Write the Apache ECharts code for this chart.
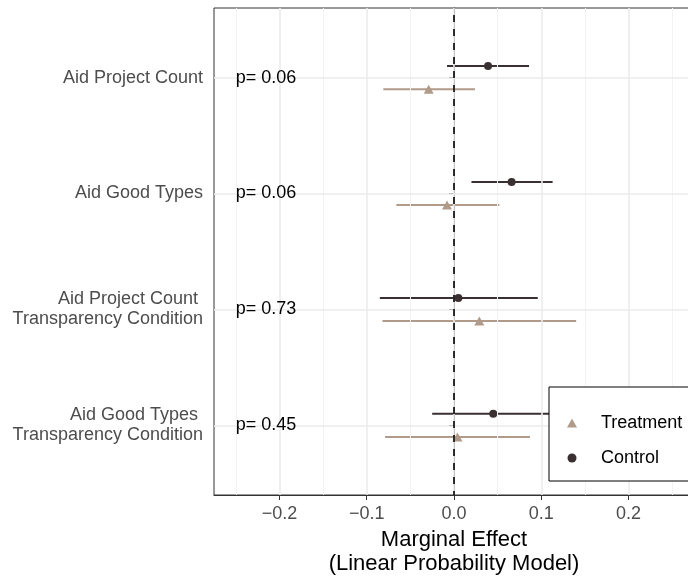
<!DOCTYPE html>
<html>
<head>
<meta charset="utf-8">
<script src="https://cdn.jsdelivr.net/npm/echarts@6/dist/echarts.min.js"></script>
<style>
html,body{margin:0;padding:0;background:#fff;}
#chart{width:688px;height:576px;}
</style>
</head>
<body>
<div id="chart"></div>
<script>
// ---- data ----
const categories = ['Aid Project Count', 'Aid Good Types', 'Aid Project Count \nTransparency Condition', 'Aid Good Types \nTransparency Condition'];
const pLabels = ['p= 0.06', 'p= 0.06', 'p= 0.73', 'p= 0.45'];
const controlEst = [0.039, 0.066, 0.005, 0.045];
const controlLo  = [-0.008, 0.020, -0.085, -0.025];
const controlHi  = [0.086, 0.113, 0.096, 0.115];
const treatEst   = [-0.029, -0.008, 0.029, 0.004];
const treatLo    = [-0.081, -0.066, -0.082, -0.079];
const treatHi    = [0.024, 0.052, 0.140, 0.087];
const xTicks = [-0.2, -0.1, 0, 0.1, 0.2];
const xMinor = [-0.25, -0.15, -0.05, 0.05, 0.15, 0.25];
const yTicks = [1, 2, 3, 4];
const pLabelX = -0.25;
const dodge = 0.1;

const FONT = 'Liberation Sans, Arial, Helvetica, sans-serif';
const controlColor = '#3a3032';
const treatColor = '#b09b8b';

const controlPts = controlEst.map((v, i) => [v, i + 1 - dodge]);
const treatPts = treatEst.map((v, i) => [v, i + 1 + dodge]);
const controlBars = controlLo.map((v, i) => [v, controlHi[i], i + 1 - dodge]);
const treatBars = treatLo.map((v, i) => [v, treatHi[i], i + 1 + dodge]);
const pData = pLabels.map((t, i) => [pLabelX, i + 1, t]);

function barRenderer(color) {
  return function (params, api) {
    const a = api.coord([api.value(0), api.value(2)]);
    const b = api.coord([api.value(1), api.value(2)]);
    return { type: 'line', shape: { x1: a[0], y1: a[1], x2: b[0], y2: b[1] },
             style: { stroke: color, lineWidth: 2 } };
  };
}
const fmt = v => (v < 0 ? '\u2212' : '') + Math.abs(v).toFixed(1);

const chart = echarts.init(document.getElementById('chart'), null, { renderer: 'canvas' });
chart.setOption({
  animation: false,
  backgroundColor: '#fff',
  textStyle: { fontFamily: FONT },
  grid: { left: 214, top: 8, width: 480, bottom: 81, containLabel: false, outerBoundsMode: 'none',
          show: true, borderColor: '#333', borderWidth: 1, backgroundColor: 'transparent' },
  xAxis: {
    type: 'value', min: -0.275, max: 0.275,
    axisLine: { show: true, lineStyle: { color: '#333', width: 1 } },
    splitLine: { show: false },
    axisTick: { show: true, customValues: xTicks, length: 5, lineStyle: { color: '#333', width: 1 } },
    axisLabel: { customValues: xTicks, formatter: fmt, fontSize: 18, color: '#4d4d4d', margin: 10, fontFamily: FONT },
    name: 'Marginal Effect\n(Linear Probability Model)',
    nameLocation: 'middle', nameGap: 32,
    nameTextStyle: { fontSize: 22, lineHeight: 24, color: '#000', fontFamily: FONT }
  },
  yAxis: {
    type: 'value', inverse: true, min: 0.4, max: 4.6,
    axisLine: { show: true, lineStyle: { color: '#333', width: 1 } },
    splitLine: { show: false },
    axisTick: { show: true, customValues: yTicks, length: 5, lineStyle: { color: '#333', width: 1 } },
    axisLabel: { customValues: yTicks, formatter: v => categories[Math.round(v) - 1], fontSize: 18, lineHeight: 20, color: '#4d4d4d', margin: 11, align: 'right', fontFamily: FONT }
  },
  legend: {
    data: ['Treatment', 'Control'],
    orient: 'vertical', left: 549, top: 387,
    padding: [26, 20, 13, 18], itemGap: 15,
    itemWidth: 10, itemHeight: 9,
    backgroundColor: '#fff', borderColor: '#000', borderWidth: 1,
    textStyle: { fontSize: 18, lineHeight: 20, color: '#000', fontFamily: FONT, padding: [0, 0, 0, 19] },
    selectedMode: false, z: 20
  },
  series: [
    {
      type: 'scatter', name: 'grid', data: [], silent: true, z: 0,
      markLine: {
        silent: true, symbol: 'none', label: { show: false },
        data: [
          ...xMinor.map(v => ({ xAxis: v, lineStyle: { color: '#f3f3f3', width: 1, type: 'solid' } })),
          ...xTicks.map(v => ({ xAxis: v, lineStyle: { color: '#ebebeb', width: 1.6, type: 'solid' } })),
          ...yTicks.map(v => ({ yAxis: v, lineStyle: { color: '#ebebeb', width: 1.6, type: 'solid' } }))
        ]
      }
    },
    { type: 'custom', name: 'Control CI', data: controlBars, renderItem: barRenderer(controlColor), encode: { x: [0, 1], y: 2 }, z: 2 },
    { type: 'custom', name: 'Treatment CI', data: treatBars, renderItem: barRenderer(treatColor), encode: { x: [0, 1], y: 2 }, z: 2 },
    {
      type: 'scatter', name: 'zero', data: [], silent: true, z: 3,
      markLine: { silent: true, symbol: 'none', label: { show: false },
        data: [{ xAxis: 0, lineStyle: { color: '#000', width: 1.6, type: [7, 7], dashOffset: 7 } }] }
    },
    { type: 'scatter', name: 'Treatment', data: treatPts, symbol: 'triangle', symbolSize: [10, 9], itemStyle: { color: treatColor, opacity: 1 }, z: 4 },
    { type: 'scatter', name: 'Control', data: controlPts, symbol: 'circle', symbolSize: 8, itemStyle: { color: controlColor, opacity: 1 }, z: 4 },
    {
      type: 'custom', name: 'pvals', data: pData, encode: { x: 0, y: 1 }, z: 5,
      renderItem: function (params, api) {
        const p = api.coord([api.value(0), api.value(1)]);
        return { type: 'text', x: p[0], y: p[1],
          style: { text: pLabels[params.dataIndex], fill: '#000', fontSize: 18, fontFamily: FONT, align: 'left', verticalAlign: 'middle' } };
      }
    }
  ]
});
</script>
</body>
</html>
